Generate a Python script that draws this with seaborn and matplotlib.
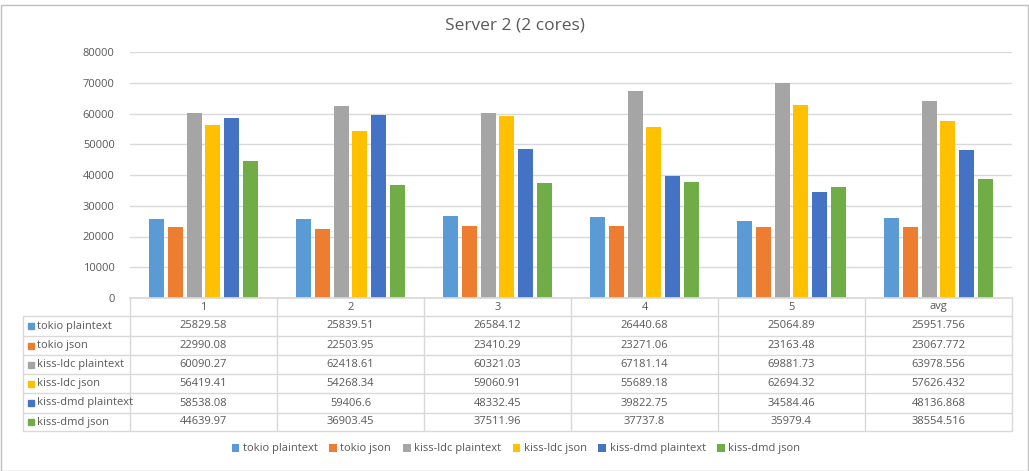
import numpy as np
import pandas as pd
import matplotlib
matplotlib.use("Agg")
import matplotlib.pyplot as plt
import matplotlib.transforms as mtransforms
import seaborn as sns

categories = ["1", "2", "3", "4", "5", "avg"]
series_names = ["tokio plaintext", "tokio json", "kiss-ldc plaintext",
                "kiss-ldc json", "kiss-dmd plaintext", "kiss-dmd json"]
tokio_plaintext = [25829.58, 25839.51, 26584.12, 26440.68, 25064.89, 25951.756]
tokio_json = [22990.08, 22503.95, 23410.29, 23271.06, 23163.48, 23067.772]
kiss_ldc_plaintext = [60090.27, 62418.61, 60321.03, 67181.14, 69881.73, 63978.556]
kiss_ldc_json = [56419.41, 54268.34, 59060.91, 55689.18, 62694.32, 57626.432]
kiss_dmd_plaintext = [58538.08, 59406.6, 48332.45, 39822.75, 34584.46, 48136.868]
kiss_dmd_json = [44639.97, 36903.45, 37511.96, 37737.8, 35979.4, 38554.516]
table_text = [
    ["25829.58", "25839.51", "26584.12", "26440.68", "25064.89", "25951.756"],
    ["22990.08", "22503.95", "23410.29", "23271.06", "23163.48", "23067.772"],
    ["60090.27", "62418.61", "60321.03", "67181.14", "69881.73", "63978.556"],
    ["56419.41", "54268.34", "59060.91", "55689.18", "62694.32", "57626.432"],
    ["58538.08", "59406.6", "48332.45", "39822.75", "34584.46", "48136.868"],
    ["44639.97", "36903.45", "37511.96", "37737.8", "35979.4", "38554.516"],
]
colors = ["#5B9BD5", "#ED7D31", "#A5A5A5", "#FFC000", "#4472C4", "#70AD47"]

all_series = [tokio_plaintext, tokio_json, kiss_ldc_plaintext,
              kiss_ldc_json, kiss_dmd_plaintext, kiss_dmd_json]
rows = []
for name, vals in zip(series_names, all_series):
    for c, v in zip(categories, vals):
        rows.append({"category": c, "series": name, "value": v})
df = pd.DataFrame(rows)

sns.set_theme(style="white")
plt.rcParams["font.family"] = ["Open Sans", "DejaVu Sans"]
TXT = "#595959"
GRID = "#D9D9D9"

W, H = 1029, 471
fig = plt.figure(figsize=(W / 100, H / 100), dpi=100)
fig.patch.set_facecolor("white")

def fx(px):
    return px / W

def fy(py):
    return 1 - py / H

ax = fig.add_axes([fx(130), fy(298), fx(1012) - fx(130), fy(52) - fy(298)])
sns.barplot(data=df, x="category", y="value", hue="series", order=categories,
            hue_order=series_names, palette=colors, width=0.77, gap=0.2,
            saturation=1, ax=ax, errorbar=None, linewidth=0)
ax.set_ylim(0, 80000)
ax.set_xlim(-0.5, len(categories) - 0.5)
ax.set_yticks(np.arange(0, 80001, 10000))
ax.set_yticklabels([str(int(v)) for v in np.arange(0, 80001, 10000)],
                   color=TXT, fontsize=8)
ax.tick_params(axis="y", length=0, pad=11)
ax.set_xticks([])
ax.set_xlabel("")
ax.set_ylabel("")
ax.yaxis.grid(True, color=GRID, linewidth=1)
ax.set_axisbelow(True)
for s in ["top", "right", "left"]:
    ax.spines[s].set_visible(False)
ax.spines["bottom"].set_color(GRID)
handles, labels = ax.get_legend_handles_labels()
ax.get_legend().remove()

# data table
blend = mtransforms.blended_transform_factory(ax.transData, fig.transFigure)
row_lines = [316, 336, 355, 374, 393, 413, 431]
table_top = 298
for b in np.arange(-0.5, len(categories), 1.0):
    ax.add_line(plt.Line2D([b, b], [fy(table_top), fy(row_lines[-1])],
                           transform=blend, color=GRID, lw=1, clip_on=False))
for r in row_lines:
    fig.add_artist(plt.Line2D([fx(23), fx(1012)], [fy(r), fy(r)],
                              color=GRID, lw=1))
fig.add_artist(plt.Line2D([fx(23), fx(23)], [fy(row_lines[0]), fy(row_lines[-1])],
                          color=GRID, lw=1))
for i, c in enumerate(categories):
    ax.text(i, fy((table_top + row_lines[0]) / 2), c, transform=blend,
            ha="center", va="center", fontsize=8, color=TXT, clip_on=False)
for j, name in enumerate(series_names):
    yc = fy((row_lines[j] + row_lines[j + 1]) / 2)
    fig.add_artist(plt.Rectangle((fx(28), yc - 3 / H), 6 / W, 6 / H,
                                 color=colors[j], transform=fig.transFigure))
    fig.text(fx(37), yc, name, ha="left", va="center", fontsize=8, color=TXT)
    for i in range(len(categories)):
        ax.text(i, yc, table_text[j][i], transform=blend, ha="center",
                va="center", fontsize=8, color=TXT, clip_on=False)

fig.text(0.5, fy(25), "Server 2 (2 cores)", ha="center", va="center",
         fontsize=12.5, color=TXT)

fig.legend(handles, labels, loc="center", bbox_to_anchor=(fx(516), fy(449)),
           ncol=6, frameon=False, fontsize=8, labelcolor=TXT,
           handlelength=0.7, handleheight=0.7, handletextpad=0.3,
           columnspacing=1.05)

fig.add_artist(plt.Rectangle((fx(1), 0.0), 1 - fx(2), fy(5), fill=False,
                             edgecolor="#BFBFBF", lw=1, transform=fig.transFigure))

fig.savefig("out.png", dpi=100)
